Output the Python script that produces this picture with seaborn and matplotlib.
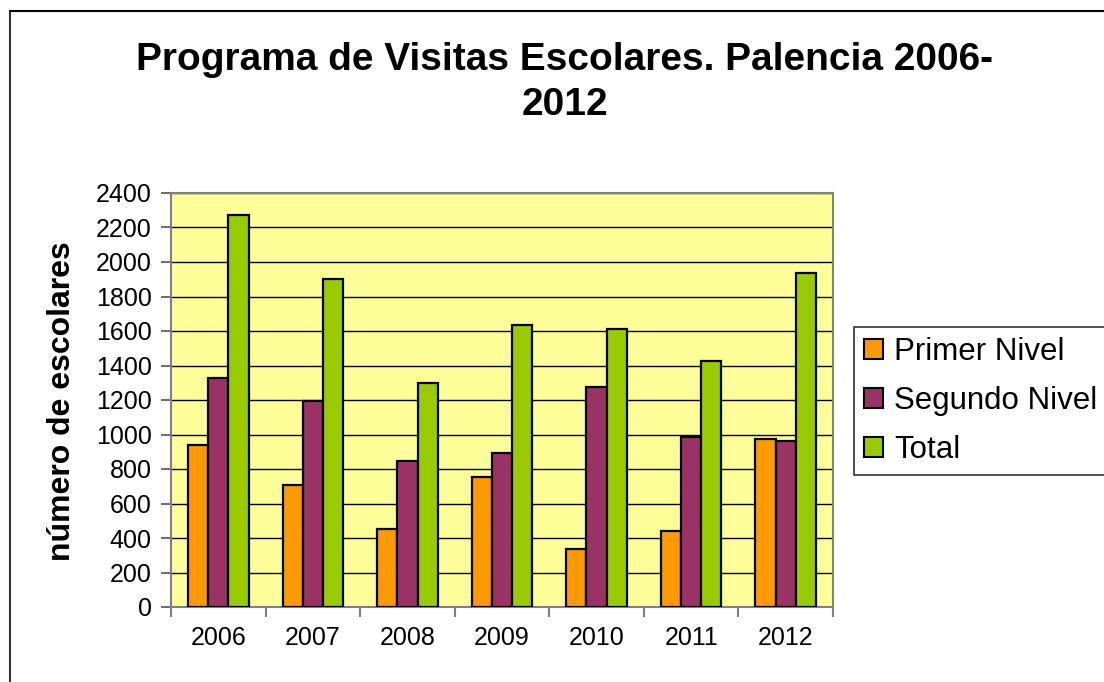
import matplotlib
matplotlib.use("Agg")
import matplotlib.pyplot as plt
import seaborn as sns
import pandas as pd
import numpy as np
from matplotlib.lines import Line2D
from matplotlib.patches import Patch

years = ["2006", "2007", "2008", "2009", "2010", "2011", "2012"]
primer_nivel = [940, 710, 450, 755, 336, 440, 974]
segundo_nivel = [1330, 1195, 845, 893, 1275, 985, 960]
total = [2270, 1900, 1300, 1632, 1610, 1424, 1934]
series_names = ["Primer Nivel", "Segundo Nivel", "Total"]
colors = ["#FF9900", "#993366", "#99CC00"]
yticks = list(range(0, 2401, 200))

sns.set_theme(style="white")
plt.rcParams['font.family'] = ['Liberation Sans', 'DejaVu Sans']
plt.rcParams['text.color'] = 'black'

df = pd.DataFrame({
    "year": years * 3,
    "value": primer_nivel + segundo_nivel + total,
    "serie": [series_names[0]] * 7 + [series_names[1]] * 7 + [series_names[2]] * 7,
})

W, H = 1104, 682
fig = plt.figure(figsize=(W / 100, H / 100), dpi=100)
ax = fig.add_axes([171 / W, 1 - 607 / H, 662 / W, 414 / H])
ax.set_facecolor("#FFFF99")

sns.barplot(data=df, x="year", y="value", hue="serie", order=years,
            hue_order=series_names, palette=colors, width=0.64,
            edgecolor="black", linewidth=1.6, ax=ax, legend=False,
            errorbar=None, saturation=1, zorder=3)

ax.set_ylim(0, 2400)
ax.set_xlim(-0.5, 6.5)
ax.set_yticks(yticks)
ax.yaxis.grid(True, color="black", linewidth=1.0, zorder=1)
ax.set_axisbelow(True)
ax.set_xlabel("")
ax.set_ylabel("")
for s in ax.spines.values():
    s.set_color("#808080")
    s.set_linewidth(1.5)
    s.set_visible(True)

ax.tick_params(axis="y", direction="out", length=7, width=1.2, color="#555555",
               labelsize=18, pad=7, left=True)
ax.tick_params(axis="x", which="major", length=0, labelsize=18, pad=14)
ax.set_xticks(np.arange(-0.5, 7, 1), minor=True)
ax.tick_params(axis="x", which="minor", direction="out", length=7, width=1.5,
               color="#808080", bottom=True)
for lab in ax.get_xticklabels() + ax.get_yticklabels():
    lab.set_color("black")

fig.text(565 / W, 1 - 60 / H, "Programa de Visitas Escolares. Palencia 2006-",
         ha="center", va="center", fontsize=28, fontweight="bold", color="black")
fig.text(565 / W, 1 - 105 / H, "2012",
         ha="center", va="center", fontsize=28, fontweight="bold", color="black")

fig.text(62 / W, 1 - 401 / H, "número de escolares", rotation=90,
         ha="center", va="center", fontsize=23, fontweight="bold", color="black")

handles = [Patch(facecolor=c, edgecolor="black", linewidth=1.5) for c in colors]
leg = fig.legend(handles, series_names, loc="upper left",
                 bbox_to_anchor=(854 / W, 1 - 327 / H), borderaxespad=0,
                 fontsize=22.5, frameon=True, fancybox=False, edgecolor="black",
                 handlelength=0.6, handleheight=0.6, handletextpad=0.35,
                 labelspacing=0.6, borderpad=0.33)
leg.get_frame().set_linewidth(1.2)
for t in leg.get_texts():
    t.set_color("black")

fig.add_artist(Line2D([10 / W, 10 / W], [0, 1 - 11 / H], transform=fig.transFigure,
                      color="#333333", linewidth=1.5))
fig.add_artist(Line2D([10 / W, 1], [1 - 11 / H, 1 - 11 / H], transform=fig.transFigure,
                      color="black", linewidth=1.5))

fig.savefig("out.png", dpi=100)
